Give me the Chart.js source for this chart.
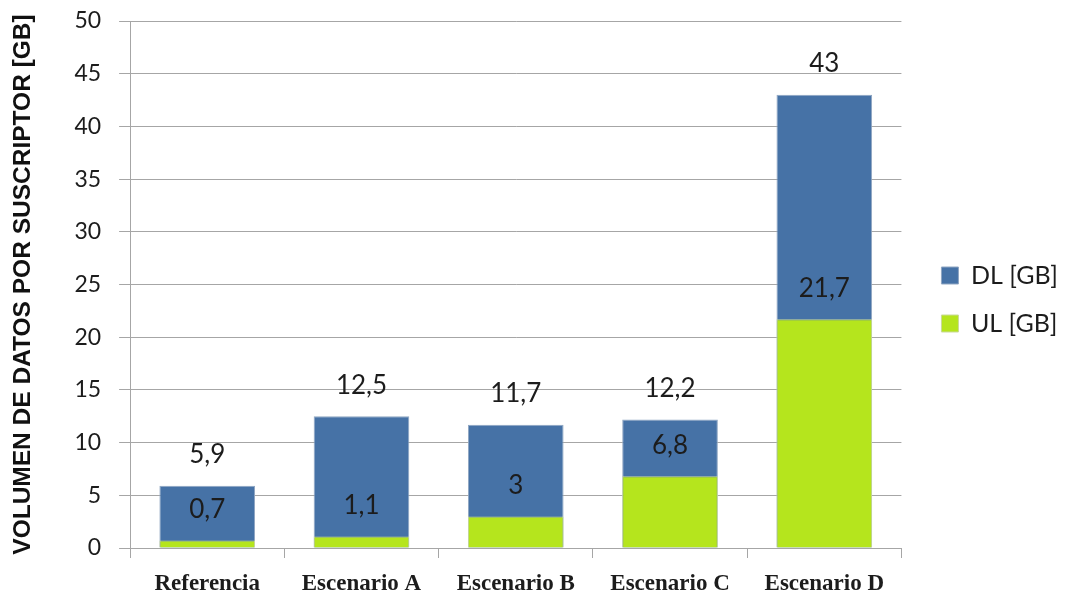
<!DOCTYPE html>
<html>
<head>
<meta charset="utf-8">
<script src="https://cdn.jsdelivr.net/npm/chart.js@4.4.1/dist/chart.umd.min.js"></script>
<style>
  body { margin: 0; background: #fff; }
</style>
</head>
<body>
<canvas id="volumeChart" width="1068" height="599"></canvas>
<script>
const scenarios = ['Referencia', 'Escenario A', 'Escenario B', 'Escenario C', 'Escenario D'];
const dlValues = [5.9, 12.5, 11.7, 12.2, 43];
const ulValues = [0.7, 1.1, 3, 6.8, 21.7];
const yMin = 0;
const yMax = 50;
const yStep = 5;

const gridColor = '#a6a6a6';
const textColor = '#1c1c1c';

// prints each bar's value just above its top, with a decimal comma
const valueLabels = {
    id: 'valueLabels',
    afterDatasetsDraw(chart) {
        const ctx = chart.ctx;
        ctx.save();
        ctx.font = '26px Lato';
        ctx.fillStyle = textColor;
        ctx.textAlign = 'center';
        ctx.textBaseline = 'middle';
        chart.data.datasets.forEach((ds, i) => {
            chart.getDatasetMeta(i).data.forEach((bar, j) => {
                ctx.fillText(String(ds.data[j]).replace('.', ','), bar.x, bar.y - 31);
            });
        });
        ctx.restore();
    }
};

new Chart(document.getElementById('volumeChart'), {
    type: 'bar',
    data: {
        labels: scenarios,
        datasets: [
            {
                label: 'DL [GB]',
                data: dlValues,
                backgroundColor: '#4672a6',
                borderColor: '#8fa6c2',
                borderWidth: 1,
                order: 1
            },
            {
                label: 'UL [GB]',
                data: ulValues,
                backgroundColor: '#b5e51d',
                borderColor: '#c9d99a',
                borderWidth: 1,
                order: 0
            }
        ]
    },
    options: {
        responsive: false,
        animation: false,
        devicePixelRatio: 1,
        layout: {
            padding: { left: 9, right: 0, top: 0, bottom: 0 }
        },
        datasets: {
            bar: {
                grouped: false,
                categoryPercentage: 1,
                barPercentage: 0.62
            }
        },
        scales: {
            x: {
                grid: {
                    drawOnChartArea: false,
                    drawTicks: true,
                    tickLength: 10,
                    color: gridColor,
                    offset: true
                },
                border: { color: gridColor },
                ticks: {
                    color: textColor,
                    padding: 12,
                    font: { family: 'Liberation Serif', weight: 'bold', size: 23 }
                },
                afterFit(scale) { scale.height = 51; }
            },
            y: {
                min: yMin,
                max: yMax,
                ticks: {
                    stepSize: yStep,
                    color: textColor,
                    padding: 18,
                    font: { family: 'Lato', size: 23 }
                },
                grid: {
                    color: gridColor,
                    tickLength: 11
                },
                border: { color: gridColor },
                title: {
                    display: true,
                    text: 'VOLUMEN DE DATOS POR SUSCRIPTOR [GB]',
                    color: '#111',
                    padding: { top: 0, bottom: 18 },
                    font: { family: 'Liberation Sans', weight: 'bold', size: 24.5 }
                },
                afterFit(scale) {
                    scale.paddingTop = 21;
                    scale.paddingBottom = 10;
                }
            },
            // empty right-hand axis, only keeps a gap before the legend
            gap: {
                position: 'right',
                display: true,
                grid: { display: false },
                border: { display: false },
                ticks: { display: false },
                afterFit(scale) { scale.width = 17; }
            }
        },
        plugins: {
            legend: {
                position: 'right',
                labels: {
                    boxWidth: 17,
                    boxHeight: 17,
                    padding: 23,
                    color: textColor,
                    font: { family: 'Lato', size: 25 },
                    sort: (a, b) => a.datasetIndex - b.datasetIndex
                }
            },
            tooltip: { enabled: false }
        }
    },
    plugins: [valueLabels]
});
</script>
</body>
</html>
